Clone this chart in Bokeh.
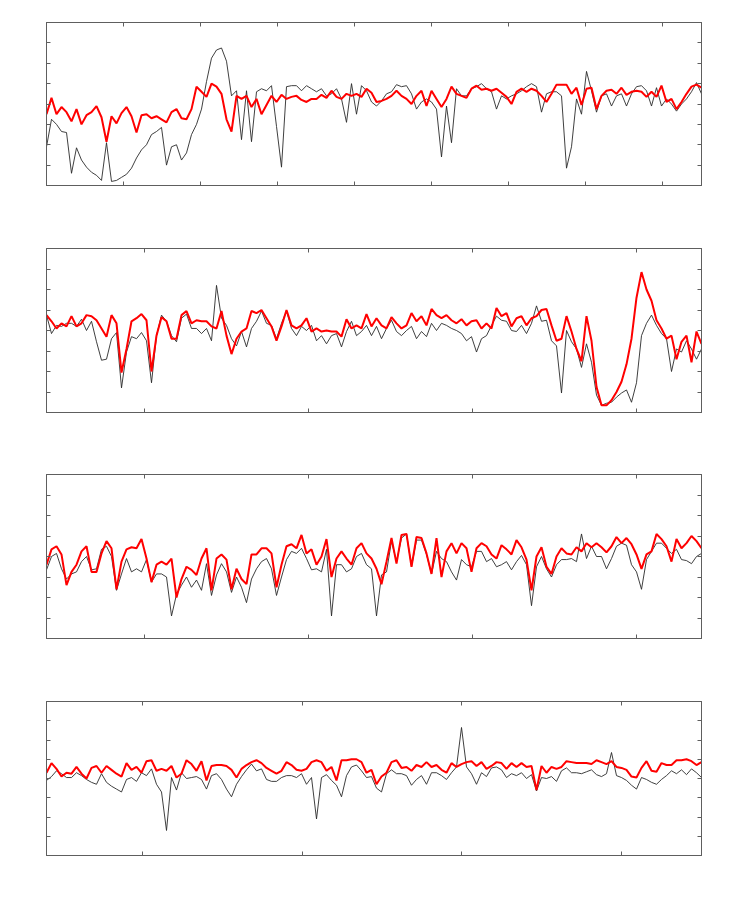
import numpy as np
from bokeh.plotting import figure
from bokeh.layouts import column
from bokeh.models import Range1d, LinearAxis, FixedTicker
from bokeh.embed import file_html
from bokeh.resources import INLINE

# ---------------- data ----------------
p1_obs = [38,65,60,53,52,12,37,25,18,13,10,5,42,4,5,8,11,17,27,35,40,50,53,57,20,38,40,25,32,50,
          60,75,102,125,133,135,122,88,93,45,93,43,92,95,93,98,58,18,97,98,98,93,98,95,92,95,88,90,95,85,
          62,100,70,98,93,82,78,
          83,90,92,99,97,98,90,75,82,85,82,75,28,78,42,95,88,88,95,97,100,95,92,75,88,85,88,90,93,97,
          100,97,72,90,92,92,88,17,38,85,70,112,93,72,88,90,78,88,90,78,90,97,98,93,78,96,78,85,80,73,
          80,85,92,101,90]
p1_fit = [70,86,70,77,72,63,75,60,69,72,78,67,43,68,61,71,77,68,52,69,70,66,68,65,62,72,75,66,65,75,
          97,92,87,100,97,90,65,53,88,85,88,77,85,70,79,88,82,89,85,87,88,84,82,85,85,89,86,93,87,85,
          90,88,90,87,95,91,82,
          83,85,88,93,88,85,80,88,93,78,93,85,77,85,97,90,88,86,95,98,94,95,93,95,91,87,80,92,95,92,
          95,93,88,82,90,99,99,99,90,96,79,95,96,75,88,93,94,90,96,89,92,93,92,87,92,87,98,82,85,75,
          82,90,97,99,96]

p2_obs = [95,77,85,84,87,87,84,91,80,89,69,51,52,72,78,24,59,74,72,78,70,29,75,95,89,75,69,92,96,82,
          82,77,82,70,124,92,85,72,65,79,64,82,89,99,87,85,72,87,99,82,75,84,80,85,70,75,67,75,77,64,
          79,89,75,79,85,75,84,
          72,82,90,79,75,80,84,72,79,74,87,80,87,85,82,80,77,70,74,59,72,75,85,94,90,89,80,79,85,77,
          87,104,89,90,70,65,19,80,69,62,44,67,49,17,7,9,10,15,19,22,10,29,75,87,95,85,77,72,40,62,
          59,70,62,52,62]
p2_fit = [95,89,82,87,84,94,84,87,95,94,90,82,74,95,87,39,62,89,92,96,90,40,75,93,89,72,72,95,99,87,
          90,89,89,84,82,99,75,57,72,79,82,99,97,100,92,84,70,84,100,85,82,85,92,79,82,79,80,79,79,74,
          91,82,85,82,96,84,92,
          85,82,93,87,82,85,97,89,94,85,101,95,92,95,90,87,91,85,89,90,82,87,82,102,94,97,84,92,94,85,
          92,94,100,101,85,70,72,94,79,62,50,94,70,25,7,7,12,20,30,47,72,112,137,120,109,90,82,72,75,52,
          69,75,49,79,67]

p3_obs = [67,80,83,68,58,63,65,75,80,67,68,87,90,80,47,63,78,65,68,65,77,55,63,63,60,22,43,52,60,50,
          57,47,73,42,62,73,65,45,60,50,35,58,68,75,78,68,42,60,77,85,83,88,78,67,68,65,87,22,72,72,
          65,68,80,83,72,68,22,
          62,65,95,75,98,102,70,96,96,82,63,85,78,75,65,57,77,72,70,85,85,75,78,70,72,75,67,75,81,72,
          32,70,80,68,60,72,77,77,78,75,102,78,90,80,80,68,78,90,93,91,72,65,48,77,85,93,93,88,83,87,
          77,76,73,80,83]
p3_fit = [72,87,90,82,52,65,72,85,90,65,65,83,95,88,48,75,87,89,88,97,78,55,72,75,72,78,40,58,70,67,
          62,78,88,47,78,82,77,48,68,58,53,82,82,88,88,83,50,72,90,92,88,101,83,87,72,80,97,60,78,85,
          78,72,88,93,83,78,68,
          53,75,98,73,101,102,70,99,98,83,63,98,60,85,93,83,93,88,65,88,93,90,82,78,91,87,82,96,89,77,
          47,80,89,70,63,80,88,83,82,89,85,93,89,93,89,84,90,99,93,98,92,82,68,82,85,102,97,90,75,97,
          88,93,100,95,88]

p4_obs = [78,82,88,85,81,81,86,83,79,76,74,85,76,72,69,66,79,81,77,86,83,90,74,66,26,81,68,86,80,81,
          82,79,69,83,85,79,69,61,74,82,89,95,88,90,79,77,77,81,83,83,81,85,74,81,38,81,84,78,73,61,
          83,92,94,88,81,82,70,
          66,85,89,85,85,83,73,79,83,74,86,86,83,79,86,92,133,92,85,74,86,82,91,92,89,81,85,83,86,80,
          84,67,81,80,82,77,88,91,86,86,85,87,89,84,82,85,107,83,81,78,73,69,81,79,76,74,79,83,88,85,
          89,84,90,86,81]
p4_fit = [86,96,90,82,86,85,92,85,80,91,93,86,93,89,85,82,96,89,92,86,98,99,88,90,88,93,81,85,99,95,
          88,98,78,93,94,94,93,89,81,90,94,97,99,96,91,88,85,88,97,94,89,88,90,97,99,97,88,92,78,99,
          99,100,100,97,86,89,74,
          82,86,97,99,91,92,88,94,92,97,92,94,89,86,96,92,95,97,98,93,97,90,93,97,96,90,96,92,96,92,
          93,68,93,86,92,90,92,98,97,96,96,96,95,99,97,95,98,92,91,89,82,81,91,98,88,87,96,94,94,99,
          99,100,98,94,97]

x_ranges = [(0, 850), (40, 440), (40, 440), (40, 450)]
x_ticks = [[0, 100, 200, 300, 400, 500, 600, 700, 800],
           [100, 200, 300, 400],
           [100, 200, 300, 400],
           [100, 200, 300, 400]]
y_ticks = [0, 20, 40, 60, 80, 100, 120, 140, 160]

AX = "#5e5e5e"


def panel(obs, fit, xr, xt, top, fh, bottom):
    p = figure(frame_width=655, frame_height=fh,
               min_border_left=46, min_border_right=38,
               min_border_top=top, min_border_bottom=bottom,
               x_range=Range1d(*xr), y_range=Range1d(0, 160),
               output_backend="svg", toolbar_location=None, tools="")
    p.xaxis.ticker = FixedTicker(ticks=xt)
    p.yaxis.ticker = FixedTicker(ticks=y_ticks)
    p.add_layout(LinearAxis(ticker=FixedTicker(ticks=y_ticks)), "right")
    p.add_layout(LinearAxis(ticker=FixedTicker(ticks=xt)), "above")
    for ax in list(p.xaxis) + list(p.yaxis):
        ax.major_tick_in = 4
        ax.major_tick_out = 0
        ax.minor_tick_line_color = None
        ax.major_label_text_color = None
        ax.major_label_text_font_size = "1px"
        ax.major_label_standoff = 0
        ax.axis_line_color = AX
        ax.major_tick_line_color = AX
    p.grid.visible = False
    p.outline_line_color = AX
    p.background_fill_color = "white"
    p.border_fill_color = "white"
    x = np.linspace(xr[0], xr[1], len(obs))
    p.line(x, obs, line_color="#2a2a2a", line_width=0.9)
    p.line(x, fit, line_color="#ff0000", line_width=2)
    return p


p1 = panel(p1_obs, p1_fit, x_ranges[0], x_ticks[0], 22, 163, 49)
p2 = panel(p2_obs, p2_fit, x_ranges[1], x_ticks[1], 14, 164, 48)
p3 = panel(p3_obs, p3_fit, x_ranges[2], x_ticks[2], 14, 164, 48)
p4 = panel(p4_obs, p4_fit, x_ranges[3], x_ticks[3], 15, 154, 40)

layout = column(p1, p2, p3, p4, spacing=0)
open("out.html", "w").write(file_html(layout, INLINE))
